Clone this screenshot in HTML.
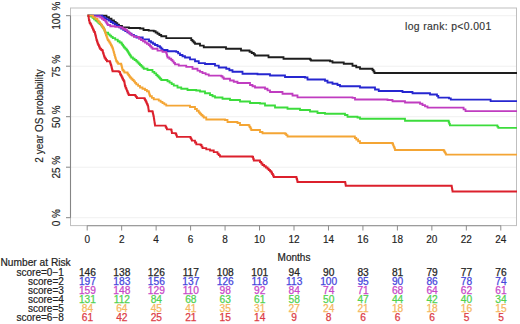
<!DOCTYPE html><html><head><meta charset="utf-8"><style>html,body{margin:0;padding:0;background:#fff;width:520px;height:324px;overflow:hidden}svg{display:block}text{font-family:"Liberation Sans",sans-serif}</style></head><body>
<svg width="520" height="324" viewBox="0 0 520 324">
<rect width="520" height="324" fill="#fff"/>
<line x1="71" y1="15.7" x2="516" y2="15.7" stroke="#f0f0f0" stroke-width="1"/>
<line x1="71" y1="66.2" x2="516" y2="66.2" stroke="#f0f0f0" stroke-width="1"/>
<line x1="71" y1="116.7" x2="516" y2="116.7" stroke="#f0f0f0" stroke-width="1"/>
<line x1="71" y1="167.2" x2="516" y2="167.2" stroke="#f0f0f0" stroke-width="1"/>
<line x1="71" y1="217.7" x2="516" y2="217.7" stroke="#f0f0f0" stroke-width="1"/>
<rect x="70.5" y="8" width="446" height="217.6" fill="none" stroke="#bfbfbf" stroke-width="1"/>
<line x1="70.5" y1="15.7" x2="70.5" y2="217.7" stroke="#858585" stroke-width="1.1"/>
<line x1="87.20" y1="225.6" x2="500.80" y2="225.6" stroke="#9c9c9c" stroke-width="1.1"/>
<line x1="66" y1="15.7" x2="70.5" y2="15.7" stroke="#858585" stroke-width="1"/>
<line x1="66" y1="66.2" x2="70.5" y2="66.2" stroke="#858585" stroke-width="1"/>
<line x1="66" y1="116.7" x2="70.5" y2="116.7" stroke="#858585" stroke-width="1"/>
<line x1="66" y1="167.2" x2="70.5" y2="167.2" stroke="#858585" stroke-width="1"/>
<line x1="66" y1="217.7" x2="70.5" y2="217.7" stroke="#858585" stroke-width="1"/>
<line x1="87.20" y1="225.6" x2="87.20" y2="230.5" stroke="#8c8c8c" stroke-width="1"/>
<text x="87.20" y="242.8" font-size="10" text-anchor="middle" fill="#222" stroke="#222" stroke-width="0.15">0</text>
<line x1="121.67" y1="225.6" x2="121.67" y2="230.5" stroke="#8c8c8c" stroke-width="1"/>
<text x="121.67" y="242.8" font-size="10" text-anchor="middle" fill="#222" stroke="#222" stroke-width="0.15">2</text>
<line x1="156.13" y1="225.6" x2="156.13" y2="230.5" stroke="#8c8c8c" stroke-width="1"/>
<text x="156.13" y="242.8" font-size="10" text-anchor="middle" fill="#222" stroke="#222" stroke-width="0.15">4</text>
<line x1="190.60" y1="225.6" x2="190.60" y2="230.5" stroke="#8c8c8c" stroke-width="1"/>
<text x="190.60" y="242.8" font-size="10" text-anchor="middle" fill="#222" stroke="#222" stroke-width="0.15">6</text>
<line x1="225.07" y1="225.6" x2="225.07" y2="230.5" stroke="#8c8c8c" stroke-width="1"/>
<text x="225.07" y="242.8" font-size="10" text-anchor="middle" fill="#222" stroke="#222" stroke-width="0.15">8</text>
<line x1="259.53" y1="225.6" x2="259.53" y2="230.5" stroke="#8c8c8c" stroke-width="1"/>
<text x="259.53" y="242.8" font-size="10" text-anchor="middle" fill="#222" stroke="#222" stroke-width="0.15">10</text>
<line x1="294.00" y1="225.6" x2="294.00" y2="230.5" stroke="#8c8c8c" stroke-width="1"/>
<text x="294.00" y="242.8" font-size="10" text-anchor="middle" fill="#222" stroke="#222" stroke-width="0.15">12</text>
<line x1="328.47" y1="225.6" x2="328.47" y2="230.5" stroke="#8c8c8c" stroke-width="1"/>
<text x="328.47" y="242.8" font-size="10" text-anchor="middle" fill="#222" stroke="#222" stroke-width="0.15">14</text>
<line x1="362.93" y1="225.6" x2="362.93" y2="230.5" stroke="#8c8c8c" stroke-width="1"/>
<text x="362.93" y="242.8" font-size="10" text-anchor="middle" fill="#222" stroke="#222" stroke-width="0.15">16</text>
<line x1="397.40" y1="225.6" x2="397.40" y2="230.5" stroke="#8c8c8c" stroke-width="1"/>
<text x="397.40" y="242.8" font-size="10" text-anchor="middle" fill="#222" stroke="#222" stroke-width="0.15">18</text>
<line x1="431.87" y1="225.6" x2="431.87" y2="230.5" stroke="#8c8c8c" stroke-width="1"/>
<text x="431.87" y="242.8" font-size="10" text-anchor="middle" fill="#222" stroke="#222" stroke-width="0.15">20</text>
<line x1="466.33" y1="225.6" x2="466.33" y2="230.5" stroke="#8c8c8c" stroke-width="1"/>
<text x="466.33" y="242.8" font-size="10" text-anchor="middle" fill="#222" stroke="#222" stroke-width="0.15">22</text>
<line x1="500.80" y1="225.6" x2="500.80" y2="230.5" stroke="#8c8c8c" stroke-width="1"/>
<text x="500.80" y="242.8" font-size="10" text-anchor="middle" fill="#222" stroke="#222" stroke-width="0.15">24</text>
<text transform="translate(60.2 15.7) rotate(-90)" font-size="10" text-anchor="middle" fill="#222" stroke="#222" stroke-width="0.15">100 %</text>
<text transform="translate(60.2 66.2) rotate(-90)" font-size="10" text-anchor="middle" fill="#222" stroke="#222" stroke-width="0.15">75 %</text>
<text transform="translate(60.2 116.7) rotate(-90)" font-size="10" text-anchor="middle" fill="#222" stroke="#222" stroke-width="0.15">50 %</text>
<text transform="translate(60.2 167.2) rotate(-90)" font-size="10" text-anchor="middle" fill="#222" stroke="#222" stroke-width="0.15">25 %</text>
<text transform="translate(60.2 217.7) rotate(-90)" font-size="10" text-anchor="middle" fill="#222" stroke="#222" stroke-width="0.15">0 %</text>
<text transform="translate(42.6 116) rotate(-90)" font-size="10" text-anchor="middle" fill="#222" stroke="#222" stroke-width="0.15">2 year OS probability</text>
<text x="294" y="261.2" font-size="10" text-anchor="middle" fill="#222" stroke="#222" stroke-width="0.2">Months</text>
<text x="405" y="30.2" font-size="10.4" letter-spacing="0.35" fill="#333" stroke="#333" stroke-width="0.15">log rank: p&lt;0.001</text>
<path d="M87.50 15.70H106.50V17.23H109.00V18.75H111.50V20.32H114.00V21.90H115.67V23.27H117.33V24.63H119.00V26.00H122.00V27.30H129.00V28.00H140.00V28.50H143.50V30.00H148.75V30.60H153.75V31.25H155.62V32.50H157.50V33.75H159.38V35.00H161.25V36.25H166.25V38.10H191.25V40.00H192.50V41.25H193.75V42.50H195.00V43.75H200.00V45.60H203.75V47.25H226.00V48.75H241.00V50.50H249.58V51.75H251.67V53.00H253.75V54.25H255.00V55.50H268.50V57.25H283.50V58.75H310.00V59.50H311.00V60.50H330.00V61.25H332.50V62.50H343.75V63.75H352.50V65.75H356.25V67.25H360.00V68.75H372.50V70.00H373.50V71.50H374.50V73.00H517.00" fill="none" stroke="#1e1e1e" stroke-width="1.8" stroke-linejoin="miter"/>
<path d="M87.50 15.70H102.33V16.93H104.42V18.17H106.50V19.40H108.58V20.70H110.67V22.00H112.75V23.30H114.83V24.63H116.92V25.97H119.00V27.30H121.08V28.53H123.17V29.77H125.25V31.00H127.33V32.33H129.42V33.67H131.50V35.00H134.00V36.25H136.50V37.50H142.75V39.40H149.00V41.25H151.00V42.50H153.00V43.75H155.00V45.00H157.50V46.25H160.00V47.50H161.25V48.75H162.50V50.00H167.50V51.25H176.25V51.90H178.12V53.45H180.00V55.00H182.50V56.25H185.00V57.50H190.00V59.40H195.00V61.25H198.75V63.10H205.00V64.00H215.00V65.60H218.75V67.50H226.25V68.75H229.38V70.25H232.50V71.75H242.50V73.75H257.50V74.25H270.00V75.50H285.00V77.00H305.00V77.50H307.50V79.50H325.00V80.75H327.50V82.50H332.50V83.75H337.50V85.00H340.00V86.25H360.00V87.50H375.00V89.50H378.75V91.00H402.50V92.00H412.50V93.25H430.00V94.50H437.00V95.80H438.30V97.60H449.00V98.40H450.80V99.70H490.60V101.20H517.00" fill="none" stroke="#2626d0" stroke-width="1.8" stroke-linejoin="miter"/>
<path d="M87.50 15.70H93.00V16.50H100.25V17.50H101.92V18.75H103.58V20.00H105.25V21.25H106.08V22.50H106.92V23.75H107.75V25.00H110.25V26.25H115.25V26.90H120.25V27.50H122.75V28.75H125.25V30.00H126.92V31.47H128.58V32.93H130.25V34.40H132.12V35.65H134.00V36.90H139.00V38.75H141.00V40.00H143.00V41.25H145.00V42.50H146.88V43.75H148.75V45.00H150.00V46.25H151.25V47.50H152.50V48.75H157.50V50.60H162.50V51.90H166.25V53.10H166.67V54.57H167.08V56.03H167.50V57.50H169.38V58.75H171.25V60.00H172.50V61.47H173.75V62.93H175.00V64.40H178.75V65.60H186.25V66.90H192.50V68.75H197.50V70.60H200.00V71.85H202.50V73.10H205.62V74.35H208.75V75.60H221.25V76.25H222.50V77.50H223.75V78.75H230.00V80.50H233.75V81.75H237.50V83.00H250.00V85.00H252.50V86.25H255.00V87.50H265.00V88.75H267.50V90.38H270.00V92.00H282.50V93.75H292.50V95.50H297.50V97.30H352.50V97.80H355.00V99.50H387.50V100.00H392.50V101.25H405.00V102.50H420.00V103.75H422.50V105.07H425.00V106.38H427.50V107.70H463.59V109.45H465.50V111.20H517.00" fill="none" stroke="#c03cc0" stroke-width="1.8" stroke-linejoin="miter"/>
<path d="M87.50 15.70H91.00V16.50H92.55V17.95H94.10V19.40H95.60V20.50H97.10V21.60H98.33V22.83H99.57V24.07H100.80V25.30H101.80V26.53H102.80V27.77H103.80V29.00H104.30V30.23H104.80V31.47H105.30V32.70H108.20V34.40H109.72V35.63H111.23V36.87H112.75V38.10H115.25V39.67H117.75V41.25H119.62V42.50H121.50V43.75H122.33V45.00H123.17V46.25H124.00V47.50H125.25V48.75H126.50V50.00H127.30V51.25H128.10V52.50H128.89V53.75H129.68V55.00H130.46V56.25H131.25V57.50H132.92V58.75H134.58V60.00H136.25V61.25H137.50V62.50H138.75V63.75H140.00V65.00H141.25V66.25H142.50V67.50H143.75V68.75H147.50V70.00H152.50V71.90H154.38V73.45H156.25V75.00H157.50V76.25H158.75V77.50H160.00V78.75H161.25V80.00H167.50V81.25H169.58V82.70H171.67V84.15H173.75V85.60H177.50V87.50H181.25V88.75H187.50V90.00H196.25V90.50H200.00V91.50H205.00V93.25H210.00V95.00H212.50V96.25H215.00V97.50H222.50V98.75H230.00V100.00H240.00V101.50H250.00V103.00H260.00V103.50H265.00V105.50H275.00V107.50H287.50V108.75H300.00V110.00H310.00V111.50H317.50V113.00H325.00V113.75H345.00V115.00H347.50V116.75H357.50V117.50H360.00V118.75H405.00V120.75H448.70V122.27H449.30V123.78H449.90V125.30H497.34V126.60H498.30V127.90H517.00" fill="none" stroke="#3cdc3c" stroke-width="1.8" stroke-linejoin="miter"/>
<path d="M87.50 15.70H93.00V17.30H95.25V18.95H97.50V20.60H98.77V22.07H100.03V23.53H101.30V25.00H102.10V26.38H102.90V27.75H103.70V29.12H104.50V30.50H104.97V32.00H105.43V33.50H105.90V35.00H106.36V36.25H106.83V37.50H107.29V38.75H107.75V40.00H108.58V41.25H109.42V42.50H110.25V43.75H110.88V45.00H111.50V46.25H112.12V47.50H112.75V48.75H113.16V50.31H113.58V51.88H113.99V53.44H114.40V55.00H114.86V56.56H115.33V58.12H115.79V59.69H116.25V61.25H117.17V62.50H118.10V63.75H121.25V65.00H121.56V66.25H121.88V67.50H122.19V68.75H122.50V70.00H123.45V71.25H124.40V72.50H127.50V73.75H128.33V75.00H129.17V76.25H130.00V77.50H131.25V78.75H132.50V80.00H133.75V81.47H135.00V82.93H136.25V84.40H138.12V85.95H140.00V87.50H142.50V88.75H145.00V90.00H146.88V91.25H148.75V92.50H149.17V93.75H149.58V95.00H150.00V96.25H151.88V97.83H153.75V99.40H158.75V100.60H160.62V101.85H162.50V103.10H164.38V104.35H166.25V105.60H190.00V107.00H195.00V109.00H196.88V110.75H198.75V112.50H200.00V113.75H201.25V115.00H202.50V116.25H203.75V117.50H206.25V119.50H225.00V120.00H227.50V122.00H237.50V123.00H240.00V125.00H248.75V125.50H249.58V127.00H250.42V128.50H251.25V130.00H260.00V132.00H262.50V133.25H285.00V133.75H286.25V135.12H287.50V136.50H354.89V138.00H356.25V139.50H358.12V141.25H360.00V143.00H392.50V143.75H393.12V145.31H393.75V146.88H394.38V148.44H395.00V150.00H443.75V150.75H444.50V152.03H445.25V153.32H446.00V154.60H517.00" fill="none" stroke="#f4a534" stroke-width="1.8" stroke-linejoin="miter"/>
<path d="M87.50 15.70H88.50V16.50H88.70V18.25H88.90V20.00H89.30V21.50H89.70V23.00H90.43V24.27H91.17V25.53H91.90V26.80H92.40V28.03H92.90V29.27H93.40V30.50H94.15V32.00H94.90V33.50H95.25V34.75H95.60V36.00H95.90V37.33H96.20V38.67H96.50V40.00H96.92V41.25H97.33V42.50H97.75V43.75H98.31V45.00H98.88V46.25H99.44V47.50H100.00V48.75H101.25V50.00H102.50V51.25H102.97V52.81H103.45V54.38H103.93V55.94H104.40V57.50H105.23V58.75H106.07V60.00H106.90V61.25H110.00V62.50H110.42V63.75H110.83V65.00H111.25V66.25H111.56V67.50H111.88V68.75H112.19V70.00H112.50V71.25H118.75V71.90H120.00V73.75H120.63V75.00H121.27V76.25H121.90V77.50H122.53V78.75H123.15V80.00H123.78V81.25H124.40V82.50H124.60V83.75H124.80V85.00H125.00V86.25H125.62V87.81H126.25V89.38H126.88V90.94H127.50V92.50H128.12V93.75H128.75V95.00H135.00V95.60H135.95V96.85H136.90V98.10H144.40V98.75H145.02V100.00H145.63V101.25H146.25V102.50H146.87V103.97H147.48V105.43H148.10V106.90H148.32V108.35H148.53V109.80H148.75V111.25H152.50V111.90H152.81V113.30H153.12V114.70H153.44V116.10H153.75V117.50H153.96V118.85H154.17V120.20H154.38V121.55H154.58V122.90H154.79V124.25H155.00V125.60H165.63V126.87H166.27V128.13H166.90V129.40H171.25V130.00H171.58V131.55H171.90V133.10H175.60V133.75H176.25V135.32H176.90V136.90H190.50V138.13H191.20V139.37H191.90V140.60H195.00V142.50H196.25V144.40H200.60V145.00H201.55V146.55H202.50V148.10H206.25V149.30H210.00V150.50H213.75V152.12H217.50V153.75H218.75V155.12H220.00V156.50H252.50V157.00H253.12V158.75H253.75V160.50H260.00V162.00H261.25V163.50H262.50V165.00H264.17V166.25H265.83V167.50H267.50V168.75H268.75V170.00H270.00V171.25H271.25V172.50H272.08V174.00H272.92V175.50H273.75V177.00H296.25V177.50H296.67V179.00H297.08V180.50H297.50V182.00H345.25V183.25H345.50V184.50H345.75V185.75H451.60V186.40H451.83V187.68H452.05V188.95H452.27V190.22H452.50V191.50H517.00" fill="none" stroke="#dc202c" stroke-width="1.8" stroke-linejoin="miter"/>
<text x="0.5" y="266.2" font-size="10.2" fill="#222" stroke="#222" stroke-width="0.2">Number at Risk</text>
<text x="63.8" y="275.5" font-size="10" text-anchor="end" fill="#222" stroke="#222" stroke-width="0.2">score=0−1</text>
<text transform="translate(87.40 275.50)" font-size="10.2" text-anchor="middle" fill="#262626" stroke="#262626" stroke-width="0.25">146</text>
<text transform="translate(121.87 275.50)" font-size="10.2" text-anchor="middle" fill="#262626" stroke="#262626" stroke-width="0.25">138</text>
<text transform="translate(156.33 275.50)" font-size="10.2" text-anchor="middle" fill="#262626" stroke="#262626" stroke-width="0.25">126</text>
<text transform="translate(190.80 275.50)" font-size="10.2" text-anchor="middle" fill="#262626" stroke="#262626" stroke-width="0.25">117</text>
<text transform="translate(225.27 275.50)" font-size="10.2" text-anchor="middle" fill="#262626" stroke="#262626" stroke-width="0.25">108</text>
<text transform="translate(259.73 275.50)" font-size="10.2" text-anchor="middle" fill="#262626" stroke="#262626" stroke-width="0.25">101</text>
<text transform="translate(294.20 275.50)" font-size="10.2" text-anchor="middle" fill="#262626" stroke="#262626" stroke-width="0.25">94</text>
<text transform="translate(328.67 275.50)" font-size="10.2" text-anchor="middle" fill="#262626" stroke="#262626" stroke-width="0.25">90</text>
<text transform="translate(363.13 275.50)" font-size="10.2" text-anchor="middle" fill="#262626" stroke="#262626" stroke-width="0.25">83</text>
<text transform="translate(397.60 275.50)" font-size="10.2" text-anchor="middle" fill="#262626" stroke="#262626" stroke-width="0.25">81</text>
<text transform="translate(432.07 275.50)" font-size="10.2" text-anchor="middle" fill="#262626" stroke="#262626" stroke-width="0.25">79</text>
<text transform="translate(466.53 275.50)" font-size="10.2" text-anchor="middle" fill="#262626" stroke="#262626" stroke-width="0.25">77</text>
<text transform="translate(501.00 275.50)" font-size="10.2" text-anchor="middle" fill="#262626" stroke="#262626" stroke-width="0.25">76</text>
<text x="63.8" y="284.6" font-size="10" text-anchor="end" fill="#222" stroke="#222" stroke-width="0.2">score=2</text>
<text transform="translate(87.40 284.62)" font-size="10.2" text-anchor="middle" fill="#4646dc" stroke="#4646dc" stroke-width="0.25">197</text>
<text transform="translate(121.87 284.62)" font-size="10.2" text-anchor="middle" fill="#4646dc" stroke="#4646dc" stroke-width="0.25">183</text>
<text transform="translate(156.33 284.62)" font-size="10.2" text-anchor="middle" fill="#4646dc" stroke="#4646dc" stroke-width="0.25">156</text>
<text transform="translate(190.80 284.62)" font-size="10.2" text-anchor="middle" fill="#4646dc" stroke="#4646dc" stroke-width="0.25">137</text>
<text transform="translate(225.27 284.62)" font-size="10.2" text-anchor="middle" fill="#4646dc" stroke="#4646dc" stroke-width="0.25">126</text>
<text transform="translate(259.73 284.62)" font-size="10.2" text-anchor="middle" fill="#4646dc" stroke="#4646dc" stroke-width="0.25">118</text>
<text transform="translate(294.20 284.62)" font-size="10.2" text-anchor="middle" fill="#4646dc" stroke="#4646dc" stroke-width="0.25">113</text>
<text transform="translate(328.67 284.62)" font-size="10.2" text-anchor="middle" fill="#4646dc" stroke="#4646dc" stroke-width="0.25">100</text>
<text transform="translate(363.13 284.62)" font-size="10.2" text-anchor="middle" fill="#4646dc" stroke="#4646dc" stroke-width="0.25">95</text>
<text transform="translate(397.60 284.62)" font-size="10.2" text-anchor="middle" fill="#4646dc" stroke="#4646dc" stroke-width="0.25">90</text>
<text transform="translate(432.07 284.62)" font-size="10.2" text-anchor="middle" fill="#4646dc" stroke="#4646dc" stroke-width="0.25">86</text>
<text transform="translate(466.53 284.62)" font-size="10.2" text-anchor="middle" fill="#4646dc" stroke="#4646dc" stroke-width="0.25">78</text>
<text transform="translate(501.00 284.62)" font-size="10.2" text-anchor="middle" fill="#4646dc" stroke="#4646dc" stroke-width="0.25">74</text>
<text x="63.8" y="293.7" font-size="10" text-anchor="end" fill="#222" stroke="#222" stroke-width="0.2">score=3</text>
<text transform="translate(87.40 293.74)" font-size="10.2" text-anchor="middle" fill="#c846c8" stroke="#c846c8" stroke-width="0.25">159</text>
<text transform="translate(121.87 293.74)" font-size="10.2" text-anchor="middle" fill="#c846c8" stroke="#c846c8" stroke-width="0.25">148</text>
<text transform="translate(156.33 293.74)" font-size="10.2" text-anchor="middle" fill="#c846c8" stroke="#c846c8" stroke-width="0.25">129</text>
<text transform="translate(190.80 293.74)" font-size="10.2" text-anchor="middle" fill="#c846c8" stroke="#c846c8" stroke-width="0.25">110</text>
<text transform="translate(225.27 293.74)" font-size="10.2" text-anchor="middle" fill="#c846c8" stroke="#c846c8" stroke-width="0.25">98</text>
<text transform="translate(259.73 293.74)" font-size="10.2" text-anchor="middle" fill="#c846c8" stroke="#c846c8" stroke-width="0.25">92</text>
<text transform="translate(294.20 293.74)" font-size="10.2" text-anchor="middle" fill="#c846c8" stroke="#c846c8" stroke-width="0.25">84</text>
<text transform="translate(328.67 293.74)" font-size="10.2" text-anchor="middle" fill="#c846c8" stroke="#c846c8" stroke-width="0.25">74</text>
<text transform="translate(363.13 293.74)" font-size="10.2" text-anchor="middle" fill="#c846c8" stroke="#c846c8" stroke-width="0.25">71</text>
<text transform="translate(397.60 293.74)" font-size="10.2" text-anchor="middle" fill="#c846c8" stroke="#c846c8" stroke-width="0.25">68</text>
<text transform="translate(432.07 293.74)" font-size="10.2" text-anchor="middle" fill="#c846c8" stroke="#c846c8" stroke-width="0.25">64</text>
<text transform="translate(466.53 293.74)" font-size="10.2" text-anchor="middle" fill="#c846c8" stroke="#c846c8" stroke-width="0.25">62</text>
<text transform="translate(501.00 293.74)" font-size="10.2" text-anchor="middle" fill="#c846c8" stroke="#c846c8" stroke-width="0.25">61</text>
<text x="63.8" y="302.9" font-size="10" text-anchor="end" fill="#222" stroke="#222" stroke-width="0.2">score=4</text>
<text transform="translate(87.40 302.86)" font-size="10.2" text-anchor="middle" fill="#50d250" stroke="#50d250" stroke-width="0.25">131</text>
<text transform="translate(121.87 302.86)" font-size="10.2" text-anchor="middle" fill="#50d250" stroke="#50d250" stroke-width="0.25">112</text>
<text transform="translate(156.33 302.86)" font-size="10.2" text-anchor="middle" fill="#50d250" stroke="#50d250" stroke-width="0.25">84</text>
<text transform="translate(190.80 302.86)" font-size="10.2" text-anchor="middle" fill="#50d250" stroke="#50d250" stroke-width="0.25">68</text>
<text transform="translate(225.27 302.86)" font-size="10.2" text-anchor="middle" fill="#50d250" stroke="#50d250" stroke-width="0.25">63</text>
<text transform="translate(259.73 302.86)" font-size="10.2" text-anchor="middle" fill="#50d250" stroke="#50d250" stroke-width="0.25">61</text>
<text transform="translate(294.20 302.86)" font-size="10.2" text-anchor="middle" fill="#50d250" stroke="#50d250" stroke-width="0.25">58</text>
<text transform="translate(328.67 302.86)" font-size="10.2" text-anchor="middle" fill="#50d250" stroke="#50d250" stroke-width="0.25">50</text>
<text transform="translate(363.13 302.86)" font-size="10.2" text-anchor="middle" fill="#50d250" stroke="#50d250" stroke-width="0.25">47</text>
<text transform="translate(397.60 302.86)" font-size="10.2" text-anchor="middle" fill="#50d250" stroke="#50d250" stroke-width="0.25">44</text>
<text transform="translate(432.07 302.86)" font-size="10.2" text-anchor="middle" fill="#50d250" stroke="#50d250" stroke-width="0.25">42</text>
<text transform="translate(466.53 302.86)" font-size="10.2" text-anchor="middle" fill="#50d250" stroke="#50d250" stroke-width="0.25">40</text>
<text transform="translate(501.00 302.86)" font-size="10.2" text-anchor="middle" fill="#50d250" stroke="#50d250" stroke-width="0.25">34</text>
<text x="63.8" y="312.0" font-size="10" text-anchor="end" fill="#222" stroke="#222" stroke-width="0.2">score=5</text>
<text transform="translate(87.40 311.98)" font-size="10.2" text-anchor="middle" fill="#f5b860" stroke="#f5b860" stroke-width="0.25">84</text>
<text transform="translate(121.87 311.98)" font-size="10.2" text-anchor="middle" fill="#f5b860" stroke="#f5b860" stroke-width="0.25">64</text>
<text transform="translate(156.33 311.98)" font-size="10.2" text-anchor="middle" fill="#f5b860" stroke="#f5b860" stroke-width="0.25">45</text>
<text transform="translate(190.80 311.98)" font-size="10.2" text-anchor="middle" fill="#f5b860" stroke="#f5b860" stroke-width="0.25">41</text>
<text transform="translate(225.27 311.98)" font-size="10.2" text-anchor="middle" fill="#f5b860" stroke="#f5b860" stroke-width="0.25">35</text>
<text transform="translate(259.73 311.98)" font-size="10.2" text-anchor="middle" fill="#f5b860" stroke="#f5b860" stroke-width="0.25">31</text>
<text transform="translate(294.20 311.98)" font-size="10.2" text-anchor="middle" fill="#f5b860" stroke="#f5b860" stroke-width="0.25">27</text>
<text transform="translate(328.67 311.98)" font-size="10.2" text-anchor="middle" fill="#f5b860" stroke="#f5b860" stroke-width="0.25">24</text>
<text transform="translate(363.13 311.98)" font-size="10.2" text-anchor="middle" fill="#f5b860" stroke="#f5b860" stroke-width="0.25">21</text>
<text transform="translate(397.60 311.98)" font-size="10.2" text-anchor="middle" fill="#f5b860" stroke="#f5b860" stroke-width="0.25">18</text>
<text transform="translate(432.07 311.98)" font-size="10.2" text-anchor="middle" fill="#f5b860" stroke="#f5b860" stroke-width="0.25">18</text>
<text transform="translate(466.53 311.98)" font-size="10.2" text-anchor="middle" fill="#f5b860" stroke="#f5b860" stroke-width="0.25">16</text>
<text transform="translate(501.00 311.98)" font-size="10.2" text-anchor="middle" fill="#f5b860" stroke="#f5b860" stroke-width="0.25">15</text>
<text x="63.8" y="321.1" font-size="10" text-anchor="end" fill="#222" stroke="#222" stroke-width="0.2">score=6−8</text>
<text transform="translate(87.40 321.10)" font-size="10.2" text-anchor="middle" fill="#dc3c46" stroke="#dc3c46" stroke-width="0.25">61</text>
<text transform="translate(121.87 321.10)" font-size="10.2" text-anchor="middle" fill="#dc3c46" stroke="#dc3c46" stroke-width="0.25">42</text>
<text transform="translate(156.33 321.10)" font-size="10.2" text-anchor="middle" fill="#dc3c46" stroke="#dc3c46" stroke-width="0.25">25</text>
<text transform="translate(190.80 321.10)" font-size="10.2" text-anchor="middle" fill="#dc3c46" stroke="#dc3c46" stroke-width="0.25">21</text>
<text transform="translate(225.27 321.10)" font-size="10.2" text-anchor="middle" fill="#dc3c46" stroke="#dc3c46" stroke-width="0.25">15</text>
<text transform="translate(259.73 321.10)" font-size="10.2" text-anchor="middle" fill="#dc3c46" stroke="#dc3c46" stroke-width="0.25">14</text>
<text transform="translate(294.20 321.10)" font-size="10.2" text-anchor="middle" fill="#dc3c46" stroke="#dc3c46" stroke-width="0.25">9</text>
<text transform="translate(328.67 321.10)" font-size="10.2" text-anchor="middle" fill="#dc3c46" stroke="#dc3c46" stroke-width="0.25">8</text>
<text transform="translate(363.13 321.10)" font-size="10.2" text-anchor="middle" fill="#dc3c46" stroke="#dc3c46" stroke-width="0.25">6</text>
<text transform="translate(397.60 321.10)" font-size="10.2" text-anchor="middle" fill="#dc3c46" stroke="#dc3c46" stroke-width="0.25">6</text>
<text transform="translate(432.07 321.10)" font-size="10.2" text-anchor="middle" fill="#dc3c46" stroke="#dc3c46" stroke-width="0.25">6</text>
<text transform="translate(466.53 321.10)" font-size="10.2" text-anchor="middle" fill="#dc3c46" stroke="#dc3c46" stroke-width="0.25">5</text>
<text transform="translate(501.00 321.10)" font-size="10.2" text-anchor="middle" fill="#dc3c46" stroke="#dc3c46" stroke-width="0.25">5</text>
</svg></body></html>
